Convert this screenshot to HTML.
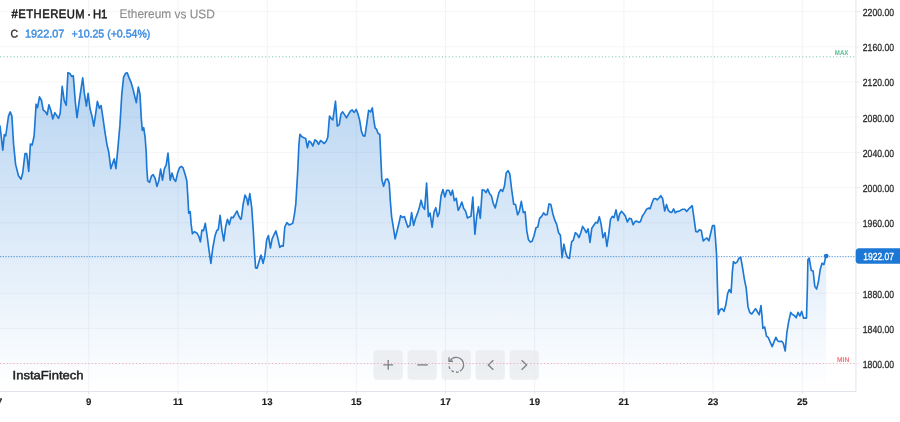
<!DOCTYPE html>
<html lang="en"><head><meta charset="utf-8"><title>#ETHEREUM H1</title>
<style>
html,body{margin:0;padding:0;background:#fff;}
body{width:900px;height:422px;overflow:hidden;}
svg{display:block;font-family:"Liberation Sans","DejaVu Sans",sans-serif;}
</style></head><body>
<svg width="900" height="422" viewBox="0 0 900 422">
<defs><linearGradient id="g" x1="0" y1="0" x2="0" y2="388" gradientUnits="userSpaceOnUse"><stop offset="0" stop-color="#1c78d4" stop-opacity="0.39"/><stop offset="1" stop-color="#1c78d4" stop-opacity="0"/></linearGradient></defs>
<rect width="900" height="422" fill="#fff"/>
<rect x="88.3" y="0" width="1" height="391" fill="#f3f3f5"/>
<rect x="177.5" y="0" width="1" height="391" fill="#f3f3f5"/>
<rect x="266.7" y="0" width="1" height="391" fill="#f3f3f5"/>
<rect x="355.8" y="0" width="1" height="391" fill="#f3f3f5"/>
<rect x="445.0" y="0" width="1" height="391" fill="#f3f3f5"/>
<rect x="534.2" y="0" width="1" height="391" fill="#f3f3f5"/>
<rect x="623.4" y="0" width="1" height="391" fill="#f3f3f5"/>
<rect x="712.6" y="0" width="1" height="391" fill="#f3f3f5"/>
<rect x="801.7" y="0" width="1" height="391" fill="#f3f3f5"/>
<rect x="0" y="11.1" width="856" height="1" fill="#f5f5f7"/>
<rect x="0" y="46.3" width="856" height="1" fill="#f5f5f7"/>
<rect x="0" y="81.5" width="856" height="1" fill="#f5f5f7"/>
<rect x="0" y="116.7" width="856" height="1" fill="#f5f5f7"/>
<rect x="0" y="151.9" width="856" height="1" fill="#f5f5f7"/>
<rect x="0" y="187.1" width="856" height="1" fill="#f5f5f7"/>
<rect x="0" y="222.3" width="856" height="1" fill="#f5f5f7"/>
<rect x="0" y="257.5" width="856" height="1" fill="#f5f5f7"/>
<rect x="0" y="292.7" width="856" height="1" fill="#f5f5f7"/>
<rect x="0" y="327.9" width="856" height="1" fill="#f5f5f7"/>
<rect x="0" y="363.1" width="856" height="1" fill="#f5f5f7"/>
<path d="M0.0,126.1 L2.8,150.2 L4.3,134.6 L5.7,136.0 L8.5,116.1 L10.2,111.9 L11.9,116.1 L13.6,144.5 L15.6,164.4 L18.5,175.8 L21.0,179.2 L22.7,173.0 L25.0,153.6 L26.7,153.6 L28.7,171.5 L30.4,144.0 L32.1,145.1 L34.1,136.0 L36.1,104.2 L37.5,107.6 L39.5,96.8 L41.5,100.5 L43.2,109.9 L45.5,111.9 L47.2,114.7 L48.9,104.8 L50.9,110.5 L52.8,119.0 L54.8,112.7 L56.8,115.6 L58.5,118.4 L60.2,113.3 L62.2,86.3 L64.2,100.5 L66.2,105.3 L67.9,72.7 L69.9,73.5 L71.6,76.4 L73.3,75.8 L75.3,101.9 L77.0,117.6 L79.5,99.1 L82.7,77.8 L84.4,93.4 L86.4,106.2 L88.1,93.4 L90.1,109.0 L92.0,116.1 L93.8,126.1 L95.7,113.3 L97.4,101.4 L99.4,108.3 L101.1,105.5 L102.8,116.9 L104.8,131.1 L107.1,145.3 L108.8,152.4 L110.8,168.6 L112.5,163.8 L114.2,158.9 L115.9,168.6 L117.9,148.1 L119.9,125.4 L121.8,94.1 L123.6,77.1 L125.5,73.4 L127.2,72.8 L129.0,77.6 L131.2,82.7 L133.2,89.9 L134.9,97.0 L136.3,102.6 L138.3,87.0 L140.0,94.1 L141.2,116.9 L142.3,130.5 L143.7,127.7 L145.2,138.2 L146.3,153.8 L146.8,168.5 L147.7,180.8 L149.6,182.3 L151.4,176.2 L153.2,174.6 L155.1,178.3 L156.9,186.4 L158.8,180.8 L160.6,169.1 L162.5,180.2 L164.3,169.1 L166.2,164.8 L168.0,153.1 L170.2,180.2 L172.0,173.1 L173.9,179.3 L175.7,181.4 L177.6,173.1 L179.4,167.9 L181.3,166.3 L183.1,167.9 L185.0,174.0 L186.8,180.8 L187.8,196.2 L188.7,213.2 L190.2,211.6 L191.1,223.9 L192.4,233.8 L194.5,231.6 L197.0,233.2 L198.8,236.3 L200.4,241.8 L201.9,230.1 L203.5,230.7 L205.3,223.3 L207.2,236.3 L209.0,250.1 L210.9,263.4 L212.7,248.6 L214.9,236.3 L216.7,230.7 L218.3,229.5 L220.1,215.3 L221.9,230.1 L223.8,240.9 L225.6,227.0 L227.5,219.3 L229.3,224.6 L231.2,217.2 L233.0,217.8 L234.9,214.7 L237.0,211.0 L238.9,216.2 L240.7,219.3 L241.4,218.1 L243.2,203.9 L245.0,195.0 L246.8,198.6 L248.0,204.8 L249.8,193.6 L251.7,207.4 L253.3,230.6 L254.6,253.7 L255.6,267.9 L257.1,268.2 L259.0,261.7 L261.0,255.1 L263.1,263.4 L264.9,255.4 L266.7,239.8 L268.4,235.5 L270.4,248.0 L272.2,238.6 L275.9,230.9 L277.7,237.7 L279.8,247.4 L281.6,245.7 L283.2,246.2 L284.8,227.0 L286.9,222.6 L289.1,224.9 L291.0,224.3 L292.8,223.1 L294.4,214.6 L295.8,203.9 L297.8,169.6 L298.9,144.8 L299.9,134.3 L301.9,136.8 L303.9,137.8 L305.7,138.5 L307.4,147.7 L309.1,141.0 L310.9,142.3 L312.9,146.0 L314.9,139.8 L316.6,141.0 L318.6,144.3 L320.6,140.5 L322.3,141.8 L324.3,143.5 L326.3,141.0 L327.8,137.3 L329.5,116.1 L331.3,118.6 L332.8,119.9 L334.3,109.9 L335.5,101.2 L337.3,126.1 L339.2,124.9 L341.0,113.7 L342.7,111.9 L344.7,114.9 L346.5,117.9 L348.4,114.4 L350.4,111.2 L352.2,109.9 L354.2,112.4 L356.2,109.4 L357.9,113.7 L359.6,119.9 L361.4,131.1 L363.1,135.6 L364.9,136.1 L366.6,124.9 L368.6,110.4 L370.6,111.9 L372.3,107.9 L373.8,119.9 L375.1,127.8 L376.6,129.3 L378.1,133.6 L379.8,134.3 L380.8,157.2 L381.8,179.2 L383.6,186.3 L385.7,179.6 L387.5,178.9 L389.2,182.8 L390.3,200.6 L391.6,216.6 L393.3,227.2 L395.1,238.8 L396.9,231.7 L398.8,223.7 L400.6,215.7 L402.4,217.4 L404.4,216.6 L406.1,221.9 L407.9,227.2 L409.9,225.4 L411.6,212.6 L413.6,225.4 L415.6,218.3 L417.3,213.9 L419.1,208.6 L421.1,200.2 L422.8,206.8 L424.6,209.4 L426.6,183.1 L428.4,216.6 L430.1,213.0 L432.1,227.2 L434.0,212.1 L435.8,207.7 L437.6,216.6 L439.2,213.0 L441.0,196.1 L442.9,189.5 L444.9,197.0 L446.8,190.2 L449.0,190.2 L450.8,195.2 L452.5,190.2 L454.3,200.6 L456.3,198.4 L458.2,210.3 L460.0,206.8 L461.8,202.0 L463.7,208.6 L465.5,210.9 L467.5,218.0 L469.4,216.9 L471.0,216.2 L472.8,197.0 L474.9,234.3 L476.7,216.6 L478.5,206.8 L480.3,218.3 L482.2,189.9 L484.2,190.2 L486.0,192.6 L487.7,189.0 L489.5,193.4 L491.5,196.1 L493.2,203.2 L495.2,208.0 L497.0,200.6 L498.9,192.6 L500.9,189.5 L502.7,191.3 L504.4,186.3 L506.2,173.0 L508.0,170.7 L509.8,173.9 L511.6,189.0 L513.7,204.1 L515.5,204.5 L517.6,214.8 L519.4,211.2 L521.3,201.4 L523.3,212.6 L525.1,211.6 L526.8,230.9 L528.5,239.8 L530.3,242.1 L532.1,241.2 L533.9,236.2 L536.0,227.7 L537.8,227.0 L539.6,218.4 L541.7,216.3 L543.6,212.8 L545.4,214.9 L547.2,214.5 L549.0,203.9 L550.9,204.6 L552.9,214.0 L554.7,219.9 L556.6,224.1 L558.6,232.7 L560.4,235.3 L562.1,257.6 L563.9,244.2 L565.9,253.6 L567.6,257.6 L569.4,258.4 L571.6,241.9 L573.3,240.1 L575.3,232.7 L577.1,234.1 L579.0,237.6 L580.8,232.7 L582.6,226.4 L584.4,229.1 L586.3,232.7 L588.1,228.8 L590.0,242.4 L591.8,228.2 L593.8,225.2 L595.7,222.4 L597.5,222.9 L599.3,216.7 L601.1,224.1 L603.0,237.6 L605.0,232.7 L606.9,246.5 L608.7,234.4 L610.5,219.3 L612.3,216.3 L614.0,217.6 L616.0,209.9 L618.0,220.6 L619.7,214.0 L621.5,211.3 L623.5,213.5 L625.4,216.3 L627.4,222.0 L629.3,218.4 L631.3,218.8 L633.1,224.7 L635.0,221.6 L636.8,221.1 L638.8,222.4 L640.5,221.6 L642.3,216.3 L644.4,213.1 L646.6,209.2 L648.4,208.1 L650.1,208.7 L651.9,203.3 L653.7,198.9 L655.5,198.5 L657.2,199.8 L659.0,198.0 L660.8,195.7 L662.6,198.5 L664.7,211.0 L666.5,204.6 L668.3,210.4 L670.2,212.2 L671.8,212.4 L673.6,208.9 L675.3,212.8 L677.1,211.4 L678.9,211.4 L681.0,210.1 L682.8,209.2 L684.8,209.2 L686.7,211.4 L688.5,209.2 L690.4,207.4 L692.2,205.7 L694.0,218.1 L695.8,231.4 L697.6,232.0 L699.3,229.7 L701.3,230.6 L703.2,240.9 L705.2,239.1 L707.0,238.0 L708.9,240.9 L710.7,233.2 L712.5,225.6 L714.4,225.6 L715.5,239.4 L716.6,255.4 L717.4,285.6 L718.3,314.4 L720.1,309.6 L722.0,308.7 L724.0,311.3 L725.8,305.1 L727.6,293.6 L729.3,289.5 L731.1,292.7 L732.4,271.3 L733.4,261.6 L735.2,263.3 L737.0,262.1 L738.8,258.5 L740.7,257.1 L742.7,268.7 L744.4,279.3 L746.2,288.2 L748.0,306.9 L749.8,312.6 L751.7,314.0 L753.7,311.3 L755.5,308.7 L757.2,311.3 L759.2,314.9 L761.0,305.5 L762.0,316.3 L762.9,328.4 L764.7,327.0 L766.5,336.2 L768.4,337.7 L770.2,342.1 L772.2,346.6 L774.1,341.6 L775.9,337.3 L777.7,340.9 L779.5,341.6 L781.4,341.2 L783.2,343.0 L785.2,351.0 L786.9,332.3 L788.7,321.7 L790.7,312.4 L792.4,314.6 L794.2,315.4 L796.2,317.8 L798.0,312.4 L799.9,316.0 L801.7,311.4 L803.5,318.1 L806.5,318.1 L807.4,285.6 L807.9,259.8 L809.2,258.0 L810.2,264.2 L811.3,270.4 L813.1,271.0 L814.8,286.4 L816.6,289.1 L818.4,282.0 L820.2,269.6 L822.0,263.3 L823.9,264.6 L825.2,258.9 L826.2,256.4 L826.2,391 L0,391 Z" fill="url(#g)"/>
<path d="M0.0,126.1 L2.8,150.2 L4.3,134.6 L5.7,136.0 L8.5,116.1 L10.2,111.9 L11.9,116.1 L13.6,144.5 L15.6,164.4 L18.5,175.8 L21.0,179.2 L22.7,173.0 L25.0,153.6 L26.7,153.6 L28.7,171.5 L30.4,144.0 L32.1,145.1 L34.1,136.0 L36.1,104.2 L37.5,107.6 L39.5,96.8 L41.5,100.5 L43.2,109.9 L45.5,111.9 L47.2,114.7 L48.9,104.8 L50.9,110.5 L52.8,119.0 L54.8,112.7 L56.8,115.6 L58.5,118.4 L60.2,113.3 L62.2,86.3 L64.2,100.5 L66.2,105.3 L67.9,72.7 L69.9,73.5 L71.6,76.4 L73.3,75.8 L75.3,101.9 L77.0,117.6 L79.5,99.1 L82.7,77.8 L84.4,93.4 L86.4,106.2 L88.1,93.4 L90.1,109.0 L92.0,116.1 L93.8,126.1 L95.7,113.3 L97.4,101.4 L99.4,108.3 L101.1,105.5 L102.8,116.9 L104.8,131.1 L107.1,145.3 L108.8,152.4 L110.8,168.6 L112.5,163.8 L114.2,158.9 L115.9,168.6 L117.9,148.1 L119.9,125.4 L121.8,94.1 L123.6,77.1 L125.5,73.4 L127.2,72.8 L129.0,77.6 L131.2,82.7 L133.2,89.9 L134.9,97.0 L136.3,102.6 L138.3,87.0 L140.0,94.1 L141.2,116.9 L142.3,130.5 L143.7,127.7 L145.2,138.2 L146.3,153.8 L146.8,168.5 L147.7,180.8 L149.6,182.3 L151.4,176.2 L153.2,174.6 L155.1,178.3 L156.9,186.4 L158.8,180.8 L160.6,169.1 L162.5,180.2 L164.3,169.1 L166.2,164.8 L168.0,153.1 L170.2,180.2 L172.0,173.1 L173.9,179.3 L175.7,181.4 L177.6,173.1 L179.4,167.9 L181.3,166.3 L183.1,167.9 L185.0,174.0 L186.8,180.8 L187.8,196.2 L188.7,213.2 L190.2,211.6 L191.1,223.9 L192.4,233.8 L194.5,231.6 L197.0,233.2 L198.8,236.3 L200.4,241.8 L201.9,230.1 L203.5,230.7 L205.3,223.3 L207.2,236.3 L209.0,250.1 L210.9,263.4 L212.7,248.6 L214.9,236.3 L216.7,230.7 L218.3,229.5 L220.1,215.3 L221.9,230.1 L223.8,240.9 L225.6,227.0 L227.5,219.3 L229.3,224.6 L231.2,217.2 L233.0,217.8 L234.9,214.7 L237.0,211.0 L238.9,216.2 L240.7,219.3 L241.4,218.1 L243.2,203.9 L245.0,195.0 L246.8,198.6 L248.0,204.8 L249.8,193.6 L251.7,207.4 L253.3,230.6 L254.6,253.7 L255.6,267.9 L257.1,268.2 L259.0,261.7 L261.0,255.1 L263.1,263.4 L264.9,255.4 L266.7,239.8 L268.4,235.5 L270.4,248.0 L272.2,238.6 L275.9,230.9 L277.7,237.7 L279.8,247.4 L281.6,245.7 L283.2,246.2 L284.8,227.0 L286.9,222.6 L289.1,224.9 L291.0,224.3 L292.8,223.1 L294.4,214.6 L295.8,203.9 L297.8,169.6 L298.9,144.8 L299.9,134.3 L301.9,136.8 L303.9,137.8 L305.7,138.5 L307.4,147.7 L309.1,141.0 L310.9,142.3 L312.9,146.0 L314.9,139.8 L316.6,141.0 L318.6,144.3 L320.6,140.5 L322.3,141.8 L324.3,143.5 L326.3,141.0 L327.8,137.3 L329.5,116.1 L331.3,118.6 L332.8,119.9 L334.3,109.9 L335.5,101.2 L337.3,126.1 L339.2,124.9 L341.0,113.7 L342.7,111.9 L344.7,114.9 L346.5,117.9 L348.4,114.4 L350.4,111.2 L352.2,109.9 L354.2,112.4 L356.2,109.4 L357.9,113.7 L359.6,119.9 L361.4,131.1 L363.1,135.6 L364.9,136.1 L366.6,124.9 L368.6,110.4 L370.6,111.9 L372.3,107.9 L373.8,119.9 L375.1,127.8 L376.6,129.3 L378.1,133.6 L379.8,134.3 L380.8,157.2 L381.8,179.2 L383.6,186.3 L385.7,179.6 L387.5,178.9 L389.2,182.8 L390.3,200.6 L391.6,216.6 L393.3,227.2 L395.1,238.8 L396.9,231.7 L398.8,223.7 L400.6,215.7 L402.4,217.4 L404.4,216.6 L406.1,221.9 L407.9,227.2 L409.9,225.4 L411.6,212.6 L413.6,225.4 L415.6,218.3 L417.3,213.9 L419.1,208.6 L421.1,200.2 L422.8,206.8 L424.6,209.4 L426.6,183.1 L428.4,216.6 L430.1,213.0 L432.1,227.2 L434.0,212.1 L435.8,207.7 L437.6,216.6 L439.2,213.0 L441.0,196.1 L442.9,189.5 L444.9,197.0 L446.8,190.2 L449.0,190.2 L450.8,195.2 L452.5,190.2 L454.3,200.6 L456.3,198.4 L458.2,210.3 L460.0,206.8 L461.8,202.0 L463.7,208.6 L465.5,210.9 L467.5,218.0 L469.4,216.9 L471.0,216.2 L472.8,197.0 L474.9,234.3 L476.7,216.6 L478.5,206.8 L480.3,218.3 L482.2,189.9 L484.2,190.2 L486.0,192.6 L487.7,189.0 L489.5,193.4 L491.5,196.1 L493.2,203.2 L495.2,208.0 L497.0,200.6 L498.9,192.6 L500.9,189.5 L502.7,191.3 L504.4,186.3 L506.2,173.0 L508.0,170.7 L509.8,173.9 L511.6,189.0 L513.7,204.1 L515.5,204.5 L517.6,214.8 L519.4,211.2 L521.3,201.4 L523.3,212.6 L525.1,211.6 L526.8,230.9 L528.5,239.8 L530.3,242.1 L532.1,241.2 L533.9,236.2 L536.0,227.7 L537.8,227.0 L539.6,218.4 L541.7,216.3 L543.6,212.8 L545.4,214.9 L547.2,214.5 L549.0,203.9 L550.9,204.6 L552.9,214.0 L554.7,219.9 L556.6,224.1 L558.6,232.7 L560.4,235.3 L562.1,257.6 L563.9,244.2 L565.9,253.6 L567.6,257.6 L569.4,258.4 L571.6,241.9 L573.3,240.1 L575.3,232.7 L577.1,234.1 L579.0,237.6 L580.8,232.7 L582.6,226.4 L584.4,229.1 L586.3,232.7 L588.1,228.8 L590.0,242.4 L591.8,228.2 L593.8,225.2 L595.7,222.4 L597.5,222.9 L599.3,216.7 L601.1,224.1 L603.0,237.6 L605.0,232.7 L606.9,246.5 L608.7,234.4 L610.5,219.3 L612.3,216.3 L614.0,217.6 L616.0,209.9 L618.0,220.6 L619.7,214.0 L621.5,211.3 L623.5,213.5 L625.4,216.3 L627.4,222.0 L629.3,218.4 L631.3,218.8 L633.1,224.7 L635.0,221.6 L636.8,221.1 L638.8,222.4 L640.5,221.6 L642.3,216.3 L644.4,213.1 L646.6,209.2 L648.4,208.1 L650.1,208.7 L651.9,203.3 L653.7,198.9 L655.5,198.5 L657.2,199.8 L659.0,198.0 L660.8,195.7 L662.6,198.5 L664.7,211.0 L666.5,204.6 L668.3,210.4 L670.2,212.2 L671.8,212.4 L673.6,208.9 L675.3,212.8 L677.1,211.4 L678.9,211.4 L681.0,210.1 L682.8,209.2 L684.8,209.2 L686.7,211.4 L688.5,209.2 L690.4,207.4 L692.2,205.7 L694.0,218.1 L695.8,231.4 L697.6,232.0 L699.3,229.7 L701.3,230.6 L703.2,240.9 L705.2,239.1 L707.0,238.0 L708.9,240.9 L710.7,233.2 L712.5,225.6 L714.4,225.6 L715.5,239.4 L716.6,255.4 L717.4,285.6 L718.3,314.4 L720.1,309.6 L722.0,308.7 L724.0,311.3 L725.8,305.1 L727.6,293.6 L729.3,289.5 L731.1,292.7 L732.4,271.3 L733.4,261.6 L735.2,263.3 L737.0,262.1 L738.8,258.5 L740.7,257.1 L742.7,268.7 L744.4,279.3 L746.2,288.2 L748.0,306.9 L749.8,312.6 L751.7,314.0 L753.7,311.3 L755.5,308.7 L757.2,311.3 L759.2,314.9 L761.0,305.5 L762.0,316.3 L762.9,328.4 L764.7,327.0 L766.5,336.2 L768.4,337.7 L770.2,342.1 L772.2,346.6 L774.1,341.6 L775.9,337.3 L777.7,340.9 L779.5,341.6 L781.4,341.2 L783.2,343.0 L785.2,351.0 L786.9,332.3 L788.7,321.7 L790.7,312.4 L792.4,314.6 L794.2,315.4 L796.2,317.8 L798.0,312.4 L799.9,316.0 L801.7,311.4 L803.5,318.1 L806.5,318.1 L807.4,285.6 L807.9,259.8 L809.2,258.0 L810.2,264.2 L811.3,270.4 L813.1,271.0 L814.8,286.4 L816.6,289.1 L818.4,282.0 L820.2,269.6 L822.0,263.3 L823.9,264.6 L825.2,258.9 L826.2,256.4" fill="none" stroke="#1c78d4" stroke-width="1.65" stroke-linejoin="round" stroke-linecap="round"/>
<line x1="0" y1="56.8" x2="856" y2="56.8" stroke="#58b890" stroke-opacity="0.85" stroke-width="1" stroke-dasharray="1 2.4"/>
<line x1="0" y1="256.6" x2="856" y2="256.6" stroke="#1c78d4" stroke-opacity="0.72" stroke-width="1" stroke-dasharray="1.3 1.4"/>
<circle cx="826.2" cy="256" r="2.35" fill="#1c78d4"/>
<rect x="855.3" y="0" width="1.2" height="391.5" fill="#e4e8ee"/>
<rect x="0" y="391" width="856" height="1" fill="#dfe4ec"/>
<rect x="856" y="11.1" width="3.5" height="1" fill="#e9ecf1"/>
<rect x="856" y="46.3" width="3.5" height="1" fill="#e9ecf1"/>
<rect x="856" y="81.5" width="3.5" height="1" fill="#e9ecf1"/>
<rect x="856" y="116.7" width="3.5" height="1" fill="#e9ecf1"/>
<rect x="856" y="151.9" width="3.5" height="1" fill="#e9ecf1"/>
<rect x="856" y="187.1" width="3.5" height="1" fill="#e9ecf1"/>
<rect x="856" y="222.3" width="3.5" height="1" fill="#e9ecf1"/>
<rect x="856" y="257.5" width="3.5" height="1" fill="#e9ecf1"/>
<rect x="856" y="292.7" width="3.5" height="1" fill="#e9ecf1"/>
<rect x="856" y="327.9" width="3.5" height="1" fill="#e9ecf1"/>
<rect x="856" y="363.1" width="3.5" height="1" fill="#e9ecf1"/>
<rect x="-0.9" y="391" width="1" height="3" fill="#dfe4ec"/>
<rect x="88.3" y="391" width="1" height="3" fill="#dfe4ec"/>
<rect x="177.5" y="391" width="1" height="3" fill="#dfe4ec"/>
<rect x="266.6" y="391" width="1" height="3" fill="#dfe4ec"/>
<rect x="355.8" y="391" width="1" height="3" fill="#dfe4ec"/>
<rect x="445.0" y="391" width="1" height="3" fill="#dfe4ec"/>
<rect x="534.2" y="391" width="1" height="3" fill="#dfe4ec"/>
<rect x="623.4" y="391" width="1" height="3" fill="#dfe4ec"/>
<rect x="712.5" y="391" width="1" height="3" fill="#dfe4ec"/>
<rect x="801.7" y="391" width="1" height="3" fill="#dfe4ec"/>
<rect x="855.7" y="248.2" width="48" height="15.5" rx="3.5" fill="#1c78d4"/>
<rect x="373.5" y="350.3" width="29.4" height="29.4" rx="4" fill="#e9ebee" fill-opacity="0.8"/>
<rect x="407.5" y="350.3" width="29.4" height="29.4" rx="4" fill="#e9ebee" fill-opacity="0.8"/>
<rect x="441.5" y="350.3" width="29.4" height="29.4" rx="4" fill="#e9ebee" fill-opacity="0.8"/>
<rect x="475.5" y="350.3" width="29.4" height="29.4" rx="4" fill="#e9ebee" fill-opacity="0.8"/>
<rect x="509.5" y="350.3" width="29.4" height="29.4" rx="4" fill="#e9ebee" fill-opacity="0.8"/>
<path d="M383.3,364.9 h9.8 M388.2,360 v9.8" stroke="#7d8087" stroke-width="1.35" fill="none" stroke-linecap="butt" stroke-linejoin="miter"/>
<path d="M417.3,364.9 h10.5" stroke="#7d8087" stroke-width="1.35" fill="none" stroke-linecap="butt" stroke-linejoin="miter"/>
<path d="M450.2,360.6 A7.4,7.4 0 1 1 460,371.2" stroke="#7d8087" stroke-width="1.35" fill="none" stroke-linecap="butt" stroke-linejoin="miter"/>
<path d="M460,371.2 A7.4,7.4 0 0 1 449,363.5" stroke="#7d8087" stroke-width="1.35" fill="none" stroke-linecap="butt" stroke-linejoin="miter" stroke-dasharray="2.6 2.2" stroke-dashoffset="-1.5"/>
<path d="M449,357.2 v4 h4" stroke="#7d8087" stroke-width="1.35" fill="none" stroke-linecap="butt" stroke-linejoin="miter"/>
<path d="M493.3,360.2 l-5,4.8 l5,4.8" stroke="#7d8087" stroke-width="1.35" fill="none" stroke-linecap="butt" stroke-linejoin="miter"/>
<path d="M521.6,360.2 l5,4.8 l-5,4.8" stroke="#7d8087" stroke-width="1.35" fill="none" stroke-linecap="butt" stroke-linejoin="miter"/>
<line x1="0" y1="363.5" x2="856" y2="363.5" stroke="#f27d8c" stroke-opacity="0.68" stroke-width="1" stroke-dasharray="1 2.4"/>
<text transform="translate(862.80,15.90) rotate(0.03) scale(0.8379,1)" font-size="10.3" fill="#2b2b2b" stroke="#2b2b2b" stroke-width="0.3">2200.00</text>
<text transform="translate(862.80,51.10) rotate(0.03) scale(0.8379,1)" font-size="10.3" fill="#2b2b2b" stroke="#2b2b2b" stroke-width="0.3">2160.00</text>
<text transform="translate(862.80,86.30) rotate(0.03) scale(0.8379,1)" font-size="10.3" fill="#2b2b2b" stroke="#2b2b2b" stroke-width="0.3">2120.00</text>
<text transform="translate(862.80,121.50) rotate(0.03) scale(0.8379,1)" font-size="10.3" fill="#2b2b2b" stroke="#2b2b2b" stroke-width="0.3">2080.00</text>
<text transform="translate(862.80,156.70) rotate(0.03) scale(0.8379,1)" font-size="10.3" fill="#2b2b2b" stroke="#2b2b2b" stroke-width="0.3">2040.00</text>
<text transform="translate(862.80,191.90) rotate(0.03) scale(0.8379,1)" font-size="10.3" fill="#2b2b2b" stroke="#2b2b2b" stroke-width="0.3">2000.00</text>
<text transform="translate(862.80,227.10) rotate(0.03) scale(0.8379,1)" font-size="10.3" fill="#2b2b2b" stroke="#2b2b2b" stroke-width="0.3">1960.00</text>
<text transform="translate(862.80,297.50) rotate(0.03) scale(0.8379,1)" font-size="10.3" fill="#2b2b2b" stroke="#2b2b2b" stroke-width="0.3">1880.00</text>
<text transform="translate(862.80,332.70) rotate(0.03) scale(0.8379,1)" font-size="10.3" fill="#2b2b2b" stroke="#2b2b2b" stroke-width="0.3">1840.00</text>
<text transform="translate(862.80,367.90) rotate(0.03) scale(0.8379,1)" font-size="10.3" fill="#2b2b2b" stroke="#2b2b2b" stroke-width="0.3">1800.00</text>
<text transform="translate(-0.40,404.90) rotate(0.03) scale(1.0000,1)" font-size="9.6" fill="#1c1c1c" stroke="#1c1c1c" stroke-width="0.15" font-weight="bold" text-anchor="middle">7</text>
<text transform="translate(88.78,404.90) rotate(0.03) scale(1.0000,1)" font-size="9.6" fill="#1c1c1c" stroke="#1c1c1c" stroke-width="0.15" font-weight="bold" text-anchor="middle">9</text>
<text transform="translate(177.96,404.90) rotate(0.03) scale(1.0000,1)" font-size="9.6" fill="#1c1c1c" stroke="#1c1c1c" stroke-width="0.15" font-weight="bold" text-anchor="middle">11</text>
<text transform="translate(267.14,404.90) rotate(0.03) scale(1.0000,1)" font-size="9.6" fill="#1c1c1c" stroke="#1c1c1c" stroke-width="0.15" font-weight="bold" text-anchor="middle">13</text>
<text transform="translate(356.32,404.90) rotate(0.03) scale(1.0000,1)" font-size="9.6" fill="#1c1c1c" stroke="#1c1c1c" stroke-width="0.15" font-weight="bold" text-anchor="middle">15</text>
<text transform="translate(445.50,404.90) rotate(0.03) scale(1.0000,1)" font-size="9.6" fill="#1c1c1c" stroke="#1c1c1c" stroke-width="0.15" font-weight="bold" text-anchor="middle">17</text>
<text transform="translate(534.68,404.90) rotate(0.03) scale(1.0000,1)" font-size="9.6" fill="#1c1c1c" stroke="#1c1c1c" stroke-width="0.15" font-weight="bold" text-anchor="middle">19</text>
<text transform="translate(623.86,404.90) rotate(0.03) scale(1.0000,1)" font-size="9.6" fill="#1c1c1c" stroke="#1c1c1c" stroke-width="0.15" font-weight="bold" text-anchor="middle">21</text>
<text transform="translate(713.04,404.90) rotate(0.03) scale(1.0000,1)" font-size="9.6" fill="#1c1c1c" stroke="#1c1c1c" stroke-width="0.15" font-weight="bold" text-anchor="middle">23</text>
<text transform="translate(802.22,404.90) rotate(0.03) scale(1.0000,1)" font-size="9.6" fill="#1c1c1c" stroke="#1c1c1c" stroke-width="0.15" font-weight="bold" text-anchor="middle">25</text>
<text transform="translate(863.30,260.20) rotate(0.03) scale(0.8218,1)" font-size="10.3" fill="#fff" stroke="#fff" stroke-width="0.3">1922.07</text>
<text transform="translate(848.40,54.70) rotate(0.03) scale(0.8739,1)" font-size="7" fill="#4fbf8f" font-weight="bold" text-anchor="end">MAX</text>
<text transform="translate(849.20,362.00) rotate(0.03) scale(0.9499,1)" font-size="7" fill="#f2707f" font-weight="bold" text-anchor="end">MIN</text>
<text transform="translate(11.60,18.10) rotate(0.03) scale(0.9154,1)" font-size="12.3" fill="#1a1a1a" stroke="#1a1a1a" stroke-width="0.5"><tspan letter-spacing="0.5">#ETHEREUM</tspan><tspan dx="-1.2"> · </tspan><tspan dx="-1" letter-spacing="-0.3">H1</tspan></text>
<text transform="translate(119.60,18.10) rotate(0.03) scale(0.9537,1)" font-size="12.5" fill="#8a8a8a" stroke="#8a8a8a" stroke-width="0.1">Ethereum vs USD</text>
<text transform="translate(10.60,37.50) rotate(0.03) scale(0.9390,1)" font-size="11.2" fill="#333" stroke="#333" stroke-width="0.4">C</text>
<text transform="translate(25.00,37.50) rotate(0.03) scale(0.9715,1)" font-size="11.2" fill="#3a8ae0" stroke="#3a8ae0" stroke-width="0.4">1922.07</text>
<text transform="translate(71.60,37.50) rotate(0.03) scale(0.9455,1)" font-size="11.2" fill="#3a8ae0" stroke="#3a8ae0" stroke-width="0.4">+10.25 (+0.54%)</text>
<text transform="translate(12.60,379.20) rotate(0.03) scale(1.0960,1)" font-size="11.9" fill="#222" stroke="#222" stroke-width="0.45">InstaFintech</text>
</svg>
</body></html>
